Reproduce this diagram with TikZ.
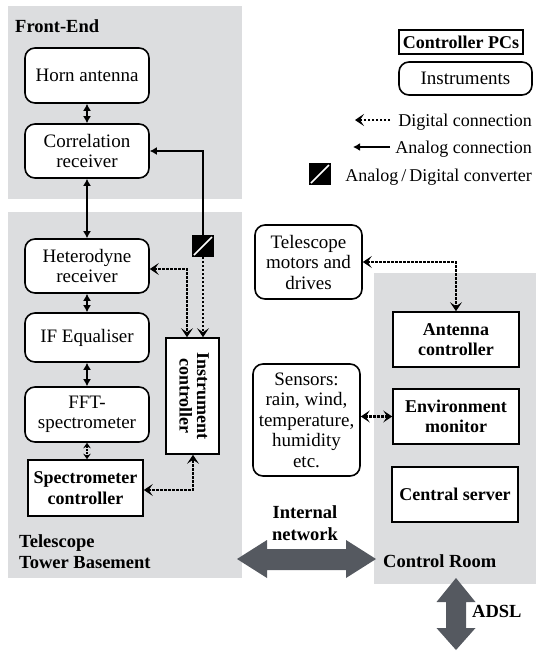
\documentclass[tikz,border=0pt]{standalone}
\usepackage{fontspec}
\setmainfont{Liberation Serif}
\usetikzlibrary{arrows.meta,calc}
\definecolor{bggray}{HTML}{DCDDDF}
\definecolor{arrgray}{HTML}{555960}
\begin{document}
\begin{tikzpicture}[x=1pt,y=-1pt,
  every node/.style={font=\fontsize{19}{20.5}\selectfont, inner sep=0pt, align=center},
  inst/.style={draw, line width=1.6pt, rounded corners=10pt, fill=white},
  pc/.style={draw, line width=1.6pt, fill=white, font=\fontsize{18}{20.5}\selectfont\bfseries},
  lbl/.style={font=\fontsize{18.5}{20}\selectfont\bfseries},
  legtxt/.style={font=\fontsize{18}{20}\selectfont},
  bg/.style={fill=bggray, draw=none},
  adc/.style={fill=black, minimum width=22pt, minimum height=22pt,
    path picture={\draw[white, line width=1.6pt]
      ([xshift=2pt,yshift=2pt]path picture bounding box.south west) --
      ([xshift=-2pt,yshift=-2pt]path picture bounding box.north east);}},
  sol/.style={line width=1.6pt},
  soltip/.tip={Latex[length=7pt,width=8pt]},
  digtip/.tip={Stealth[length=9pt,width=12pt,inset=4pt]},
  smalltip/.tip={Stealth[length=5.5pt,width=7.5pt,inset=2pt]},
  dig/.style={line width=2.5pt, dash pattern=on 2.2pt off 1.8pt},
  digthin/.style={line width=1.4pt, dash pattern=on 1.5pt off 1.5pt},
  bigarrow/.style={fill=arrgray, draw=none}
]
\useasboundingbox (0,0) rectangle (536,651);

% background regions
\fill[bg] (8,6) rectangle (242,199);
\fill[bg] (8,212) rectangle (242,578);
\fill[bg] (374,273) rectangle (536,584);

% region labels
\node[lbl, anchor=base west] (tfe) at (15,32) {Front-End};
\node[lbl, anchor=base west] (ttb1) at (19,547) {Telescope};
\node[lbl, anchor=base west] (ttb2) at (19,568) {Tower Basement};
\node[lbl, anchor=base west] (tcr) at (383,567) {Control Room};
\node[lbl, anchor=base] (tin1) at (305,518) {Internal};
\node[lbl, anchor=base] (tin2) at (305,540) {network};
\node[lbl, anchor=base west] (tadsl) at (472,617) {ADSL};

% front-end
\node[inst, minimum width=124pt, minimum height=55pt] (horn) at (87,75.5) {Horn antenna};
\node[inst, minimum width=124pt, minimum height=54pt] (corr) at (87,151) {Correlation\\receiver};

% basement
\node[inst, minimum width=124pt, minimum height=54pt] (het) at (87,266) {Heterodyne\\receiver};
\node[inst, minimum width=124pt, minimum height=49pt] (ifeq) at (87,337.5) {IF Equaliser};
\node[inst, minimum width=124pt, minimum height=55pt] (fft) at (87,414.5) {FFT-\\spectrometer};
\node[pc, minimum width=115pt, minimum height=56pt] (spec) at (85.5,488) {Spectrometer\\controller};
\node[pc, minimum width=53pt, minimum height=116pt] (instc) at (192.5,396)
  {\rotatebox{-90}{\begin{tabular}{@{}c@{}}Instrument\\[-3pt]controller\end{tabular}}};
\node[adc] (ad) at (203,246) {};

% middle column
\node[inst, minimum width=107pt, minimum height=74pt] (motors) at (308.5,262) {Telescope\\motors and\\drives};
\node[inst, minimum width=107pt, minimum height=112pt] (sens) at (306.5,420)
  {Sensors:\\rain, wind,\\temperature,\\humidity\\etc.};

% control room
\node[pc, minimum width=126pt, minimum height=55pt] (ant) at (456,339.5) {Antenna\\controller};
\node[pc, minimum width=126pt, minimum height=55pt] (env) at (456,416.5) {Environment\\monitor};
\node[pc, minimum width=126pt, minimum height=55pt] (cent) at (455,494.5) {Central server};

% legend
\node[pc, minimum width=124pt, minimum height=24pt] (lpc) at (461,42) {Controller PCs};
\node[inst, minimum width=133pt, minimum height=33pt] (linst) at (465.5,78.5) {Instruments};
\node[legtxt, anchor=base east] (ldig) at (532,126) {Digital connection};
\node[legtxt, anchor=base east] (lana) at (532,153) {Analog connection};
\node[legtxt, anchor=base east] (ladt) at (532,181) {Analog\,/\,Digital converter};
\node[adc] (lad) at (320,174) {};
\coordinate (ld0) at (390,120);
\coordinate (ld1) at (355,120);
\coordinate (la0) at (390,147);
\coordinate (la1) at (353,147);
\draw[dig, -digtip] (ld0) -- (ld1);
\draw[sol, -soltip] (la0) -- (la1);

% connections
\draw[sol, soltip-soltip] (horn.south) -- (corr.north);
\draw[sol, soltip-soltip] (corr.south) -- (het.north);
\draw[sol, soltip-soltip] (het.south) -- (ifeq.north);
\draw[sol, soltip-soltip] (ifeq.south) -- (fft.north);
\draw[digthin, smalltip-smalltip] (fft.south) -- (fft.south |- spec.north);
\draw[sol, -soltip] (ad.north) |- (corr.east);
\draw[dig, -digtip] (ad.south) -- (ad.south |- instc.north);
\draw[dig, digtip-digtip] ([yshift=-3pt]het.east) -| ([xshift=-5.5pt]instc.north);
\draw[dig, digtip-digtip] ([yshift=-2pt]spec.east) -| ([xshift=0.5pt]instc.south);
\draw[dig, digtip-digtip] (motors.east) -| (ant.north);
\draw[dig, digtip-digtip] (env.west -| sens.east) -- (env.west);

% big arrows
\fill[bigarrow] (237,559) -- (267,540) -- (267,549) -- (346,549) -- (346,540) -- (376,559)
  -- (346,578) -- (346,570) -- (267,570) -- (267,578) -- cycle;
\fill[bigarrow] (456,578) -- (475.5,602) -- (466,602) -- (466,628) -- (475.5,628) -- (456,650)
  -- (436.5,628) -- (446,628) -- (446,602) -- (436.5,602) -- cycle;
\end{tikzpicture}
\end{document}
